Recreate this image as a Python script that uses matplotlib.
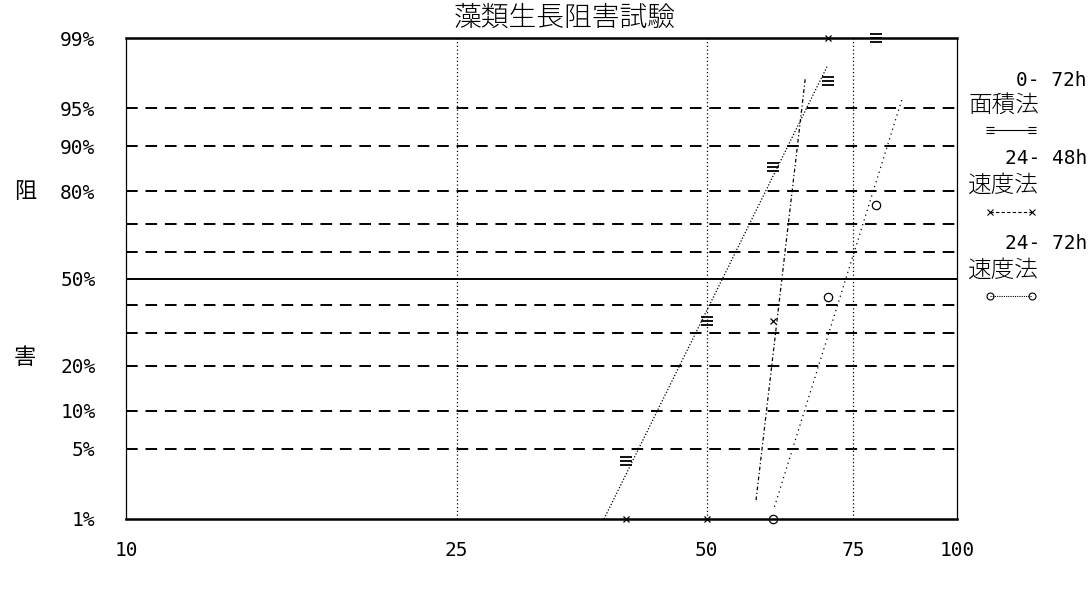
import numpy as np
import matplotlib
matplotlib.use("Agg")
import matplotlib.pyplot as plt
from matplotlib.lines import Line2D
from matplotlib.path import Path
from statistics import NormalDist

plt.rcParams['font.family'] = ['Noto Sans CJK JP', 'DejaVu Sans']

# data (concentration, % inhibition)
conc_area = [40, 50, 60, 70, 80]
inh_area = [3.9, 34, 86, 97.2, 99]           # 0-72h 面積法
conc_r48 = [40, 50, 60, 70]
inh_r48 = [1, 1, 34, 99]                      # 24-48h 速度法
conc_r72 = [60, 70, 80]
inh_r72 = [1, 43, 76]                         # 24-72h 速度法

# fitted probit lines (end points)
fit_area_c = [37.6, 69.8]
fit_area_p = [1, 98]
fit_r48_c = [57.3, 65.7]
fit_r48_p = [1.6, 97.4]
fit_r72_c = [60.3, 85.9]
fit_r72_p = [1.36, 95.9]

ytick_vals = [1, 5, 10, 20, 50, 80, 90, 95, 99]
ytick_labels = ['1%', '5%', '10%', '20%', '50%', '80%', '90%', '95%', '99%']
dash_vals = [5, 10, 20, 30, 40, 60, 70, 80, 90, 95]
xtick_vals = [10, 25, 50, 75, 100]
xtick_labels = ['10', '25', '50', '75', '100']

nd = NormalDist()


def fwd(p):
    p = np.clip(np.asarray(p, dtype=float) / 100.0, 1e-9, 1 - 1e-9)
    return np.vectorize(nd.inv_cdf, otypes=[float])(p)


def inv(z):
    z = np.asarray(z, dtype=float)
    return np.vectorize(nd.cdf, otypes=[float])(z) * 100.0


# three-bar marker (≡)
bars = Path([(-1, 0.7), (1, 0.7), (-1, 0), (1, 0), (-1, -0.7), (1, -0.7)],
            [Path.MOVETO, Path.LINETO] * 3)

fig = plt.figure(figsize=(10.92, 5.92), dpi=100)
ax = fig.add_axes([126 / 1092, 1 - 519 / 592, (957 - 126) / 1092, (519 - 38) / 592])
ax.set_xscale('log')
ax.set_yscale('function', functions=(fwd, inv))
ax.set_xlim(10, 100)
ax.set_ylim(1, 99)

# grid
for v in dash_vals:
    ax.axhline(v, color='black', lw=1.4, ls=(0, (6, 4)), zorder=1)
ax.axhline(50, color='black', lw=1.4, zorder=1)
for v in [25, 50, 75]:
    ax.axvline(v, color='black', lw=0.9, ls=(0, (1, 2)), zorder=1)

for s in ['top', 'bottom']:
    ax.spines[s].set_linewidth(1.8)
for s in ['left', 'right']:
    ax.spines[s].set_linestyle((0, (1, 1)))
    ax.spines[s].set_linewidth(0.9)

# fitted lines
ax.plot(fit_area_c, fit_area_p, color='black', lw=0.9, ls=(0, (1, 1.5)))
ax.plot(fit_r48_c, fit_r48_p, color='black', lw=0.9, ls=(0, (3, 2, 1, 2)))
ax.plot(fit_r72_c, fit_r72_p, color='black', lw=0.9, ls=(0, (1, 3)))

# points
ax.plot(conc_area, inh_area, ls='none', marker=bars, ms=8, mew=1.3, color='black', clip_on=False)
ax.plot(conc_r48, inh_r48, ls='none', marker='x', ms=5, mew=0.9, color='black', clip_on=False)
ax.plot(conc_r72, inh_r72, ls='none', marker='o', ms=6, mfc='none', mew=0.9, color='black', clip_on=False)

ax.set_xticks(xtick_vals)
ax.set_xticklabels(xtick_labels, family='DejaVu Sans Mono', fontsize=14)
ax.xaxis.set_minor_locator(matplotlib.ticker.NullLocator())
ax.set_yticks(ytick_vals)
ax.set_yticklabels(ytick_labels, family='DejaVu Sans Mono', fontsize=14)
ax.yaxis.set_minor_locator(matplotlib.ticker.NullLocator())
ax.tick_params(axis='x', length=0, pad=16)
ax.tick_params(axis='y', length=0, pad=22)

# axis label characters
fig.text(25 / 1092, 1 - 192 / 592, '阻', fontsize=16, ha='center', va='center')
fig.text(25 / 1092, 1 - 357 / 592, '害', fontsize=16, ha='center', va='center')

# title
fig.text(565 / 1092, 1 - 18 / 592, '藻類生長阻害試驗', fontsize=20, ha='center', va='center',
         fontweight='light')

# legend text at right
mono = 'DejaVu Sans Mono'
fig.text(1087 / 1092, 1 - 80 / 592, '0- 72h', family=mono, fontsize=14, ha='right', va='center')
fig.text(968 / 1092, 1 - 105 / 592, '面積法', fontsize=17, ha='left', va='center', fontweight='light')
fig.text(1087 / 1092, 1 - 158 / 592, '24- 48h', family=mono, fontsize=14, ha='right', va='center')
fig.text(968 / 1092, 1 - 185 / 592, '速度法', fontsize=17, ha='left', va='center', fontweight='light')
fig.text(1087 / 1092, 1 - 243 / 592, '24- 72h', family=mono, fontsize=14, ha='right', va='center')
fig.text(968 / 1092, 1 - 270 / 592, '速度法', fontsize=17, ha='left', va='center', fontweight='light')

legend_y = [130, 212, 296]
styles = [dict(ls='-', marker=bars, ms=6, mfc='black'),
          dict(ls=(0, (3, 2)), marker='x', ms=4, mfc='black'),
          dict(ls=(0, (1, 1)), marker='o', ms=5, mfc='none')]
for yy, st in zip(legend_y, styles):
    fig.add_artist(Line2D([990 / 1092, 1032 / 1092], [1 - yy / 592] * 2,
                          transform=fig.transFigure, color='black', lw=0.8,
                          markevery=[0, 1], mew=0.8, **st))

fig.savefig('out.png', dpi=100, facecolor='white')
